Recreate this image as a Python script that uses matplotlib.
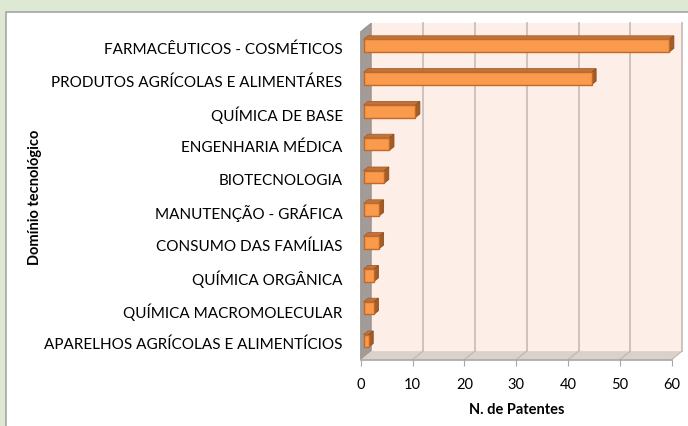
import numpy as np
import matplotlib
matplotlib.use("Agg")
import matplotlib.pyplot as plt
from matplotlib.patches import Polygon, Rectangle

plt.rcParams['font.family'] = ['Lato', 'DejaVu Sans']

categories = [
    'FARMACÊUTICOS - COSMÉTICOS',
    'PRODUTOS AGRÍCOLAS E ALIMENTÁRES',
    'QUÍMICA DE BASE',
    'ENGENHARIA MÉDICA',
    'BIOTECNOLOGIA',
    'MANUTENÇÃO - GRÁFICA',
    'CONSUMO DAS FAMÍLIAS',
    'QUÍMICA ORGÂNICA',
    'QUÍMICA MACROMOLECULAR',
    'APARELHOS AGRÍCOLAS E ALIMENTÍCIOS',
]
patentes = [59, 44, 10, 5, 4, 3, 3, 2, 2, 1]
x_ticks = [0, 10, 20, 30, 40, 50, 60]
x_label = 'N. de Patentes'
y_label = 'Domínio tecnológico'

W, H = 688, 426
fig = plt.figure(figsize=(W / 100, H / 100), dpi=100)
fig.patch.set_facecolor('#dde9d3')

# white chart area with thin gray border
fig.patches.append(Rectangle((6 / W, -0.01), 1.0, (H - 12) / H + 0.01,
                             transform=fig.transFigure, facecolor='white',
                             edgecolor='#a6a6a6', linewidth=1.2, zorder=-10))

# front plane of the 3d box, in pixels
left_px, right_px = 360.7, 671.7
top_px, bot_px = 31.6, 359.6
ax = fig.add_axes([left_px / W, (H - bot_px) / H,
                   (right_px - left_px) / W, (bot_px - top_px) / H])
ax.set_facecolor('none')
n = len(categories)
xmax = x_ticks[-1]
ax.set_xlim(0, xmax)
ax.set_ylim(n - 0.5, -0.5)

px_per_x = (right_px - left_px) / xmax
px_per_row = (bot_px - top_px) / n
dx = 10.5 / px_per_x     # depth shift, data units
dy = 8.5 / px_per_row


def proj(v, r, d):
    return (v + d * dx, r - d * dy)


def face(pts, **kw):
    p = Polygon([proj(*q) for q in pts], closed=True, clip_on=False, **kw)
    ax.add_patch(p)
    return p


r0, r1 = -0.5, n - 0.5
# back wall
face([(0, r0, 1), (xmax, r0, 1), (xmax, r1, 1), (0, r1, 1)],
     facecolor='#fdefe8', edgecolor='none', zorder=0)
for v in x_ticks[1:]:
    xs, ys = zip(proj(v, r0, 1), proj(v, r1, 1))
    ax.plot(xs, ys, color='#c9bfba', lw=1.3, clip_on=False, zorder=0.5)
    xs, ys = zip(proj(v, r1, 0), proj(v, r1, 1))
    ax.plot(xs, ys, color='#bfb6b1', lw=0.8, clip_on=False, zorder=1.2)
# left wall
face([(0, r0, 0), (0, r0, 1), (0, r1, 1), (0, r1, 0)],
     facecolor='#a29b97', edgecolor='#8f8884', lw=0.6, zorder=1)
# floor
face([(0, r1, 0), (xmax, r1, 0), (xmax, r1, 1), (0, r1, 1)],
     facecolor='#dbd1cc', edgecolor='none', zorder=1)

# bars: top, side, then front face
d0, d1 = 0.27, 0.70
hh = 0.19
for i, val in enumerate(patentes):
    top, bot = i - hh, i + hh
    face([(0, top, d0), (val, top, d0), (val, top, d1), (0, top, d1)],
         facecolor='#c2733a', edgecolor='#a65e28', lw=0.6, zorder=2)
    face([(val, top, d0), (val, top, d1), (val, bot, d1), (val, bot, d0)],
         facecolor='#a35c26', edgecolor='#8e4f20', lw=0.6, zorder=2)
    face([(0, top, d0), (val, top, d0), (val, bot, d0), (0, bot, d0)],
         facecolor='#f99a4c', edgecolor='#c0692a', lw=1.0, zorder=3)

for s in ['left', 'right', 'top']:
    ax.spines[s].set_visible(False)
ax.spines['bottom'].set_color('#a6a6a6')
ax.spines['bottom'].set_linewidth(1.2)

ax.set_xticks(x_ticks)
ax.set_xticklabels([str(t) for t in x_ticks])
ax.tick_params(axis='x', length=4, color='#a6a6a6', pad=9.5, labelsize=10.5)
ax.set_yticks(range(n))
ax.set_yticklabels(categories)
ax.tick_params(axis='y', length=0, pad=13, labelsize=11)

fig.text(517 / W, 1 - 410 / H, x_label, ha='center', va='center',
         fontsize=10.5, fontweight='bold')
fig.text(35 / W, 1 - 197 / H, y_label, ha='center', va='center',
         rotation=90, fontsize=10.5, fontweight='bold')

fig.savefig('out.png', dpi=100, facecolor=fig.get_facecolor())
